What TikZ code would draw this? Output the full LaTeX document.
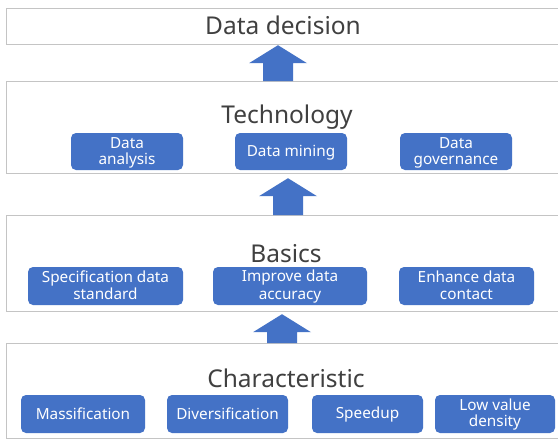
\documentclass[tikz,border=0pt]{standalone}
\usepackage{fontspec}
\setmainfont{Noto Sans}
\usetikzlibrary{calc}

\definecolor{layerline}{RGB}{196,196,196}
\definecolor{itemblue}{RGB}{68,114,198}
\definecolor{titlegray}{RGB}{64,64,64}

\tikzset{
  layer/.style={draw=layerline, line width=1.2pt, fill=white, rectangle,
                inner sep=0pt, minimum height=#1},
  layertitle/.style={anchor=base, text=titlegray,
                     font=\fontsize{24.5}{28}\selectfont},
  item/.style={fill=itemblue, rounded corners=5pt, text=white, align=center,
               inner sep=0pt, minimum height=38pt, minimum width=#1,
               font=\fontsize{15.3}{16.4}\selectfont},
  blockarrow/.style={fill=itemblue}
}

% one line of item text with a fixed height and depth, so the words sit centred
\newcommand\itemline[1]{\rule[-3.2pt]{0pt}{16.4pt}#1}

% vertical block arrow at x=#1 from the top of node #2 up to the bottom of node #3,
% its tip kept #4 below node #3
\newcommand\layerarrow[4]{%
  \fill[blockarrow] let \p1=(#3.south), \p2=(#2.north) in
    (#1pt,\y1-#4pt) -- (#1pt+29pt,\y1-#4pt-18pt) -- (#1pt+15pt,\y1-#4pt-18pt)
    -- (#1pt+15pt,\y2) -- (#1pt-15pt,\y2) -- (#1pt-15pt,\y1-#4pt-18pt)
    -- (#1pt-29pt,\y1-#4pt-18pt) -- cycle;}

\begin{document}
\begin{tikzpicture}[x=1pt,y=-1pt]
\useasboundingbox (0,0) rectangle (558,440);
\clip (0,0) rectangle (558,440);
\fill[white] (0,0) rectangle (558,440);

% the four layers, right edges running past the page
\node[layer=36pt, minimum width=560pt, anchor=north west] (decision) at (6,8) {};
\node[layer=92pt, minimum width=560pt, anchor=north west] (tech) at (6,81) {};
\node[layer=96pt, minimum width=560pt, anchor=north west] (basics) at (6,215) {};
\node[layer=95pt, minimum width=560pt, anchor=north west] (charac) at (6,343) {};

% layer titles
\node[layertitle] (tdecision) at (283,34) {Data decision};
\node[layertitle] (ttech) at (287,123) {Technology};
\node[layertitle] (tbasics) at (286,262) {Basics};
\node[layertitle] (tcharac) at (286,387) {Characteristic};

% technology items
\node[item=112pt, minimum height=37pt] (analysis) at (127,151.5) {\itemline{Data}\\\itemline{analysis}};
\node[item=112pt, minimum height=37pt] (mining) at (291,151.5) {\itemline{Data mining}};
\node[item=112pt, minimum height=37pt] (governance) at (456,151.5) {\itemline{Data}\\\itemline{governance}};

% basic items
\node[item=155pt] (spec) at (105.5,286) {\itemline{Specification data}\\\itemline{standard}};
\node[item=154pt] (accuracy) at (290,286) {\itemline{Improve data}\\\itemline{accuracy}};
\node[item=135pt] (contact) at (466.5,286) {\itemline{Enhance data}\\\itemline{contact}};

% characteristic items
\node[item=124pt] (mass) at (83,414) {\itemline{Massification}};
\node[item=121pt] (divers) at (227.5,414) {\itemline{Diversification}};
\node[item=111pt] (speed) at (367.5,414) {\itemline{Speedup}};
\node[item=120pt] (lowvalue) at (495,414) {\itemline{Low value}\\\itemline{density}};

% arrows between the layers
\layerarrow{278}{tech}{decision}{0}
\layerarrow{288}{basics}{tech}{4}
\layerarrow{282}{charac}{basics}{2}
\end{tikzpicture}
\end{document}
